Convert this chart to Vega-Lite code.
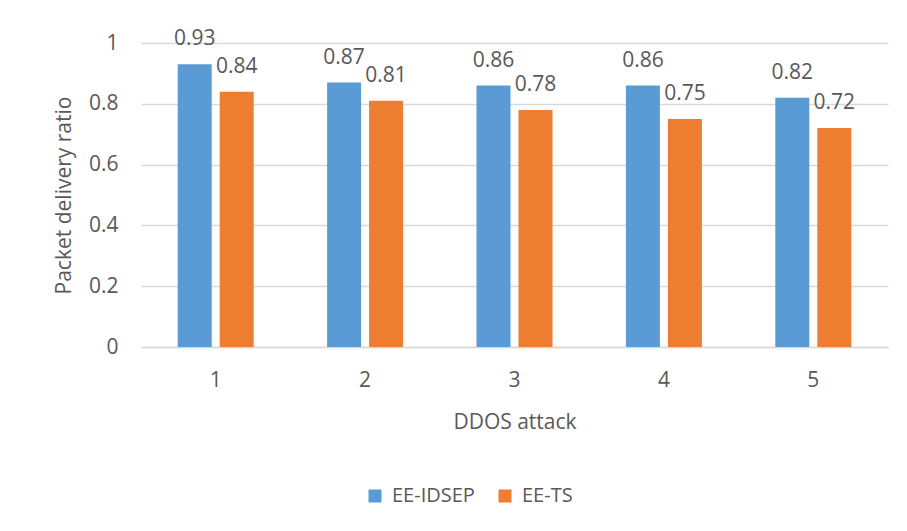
{
  "$schema": "https://vega.github.io/schema/vega-lite/v6.json",
  "autosize": {"type": "none"},
  "width": 747,
  "height": 304,
  "padding": {"left": 141, "top": 43, "right": 19, "bottom": 184},
  "background": "white",
  "config": {
    "view": {"stroke": null},
    "font": "Open Sans",
    "text": {"font": "Open Sans"},
    "axis": {
      "labelFont": "Open Sans",
      "titleFont": "Open Sans",
      "labelColor": "#595959",
      "titleColor": "#595959",
      "labelFontSize": 21,
      "titleFontSize": 21,
      "titleFontWeight": "normal"
    },
    "legend": {"labelFont": "Open Sans", "labelColor": "#595959", "labelFontSize": 20}
  },
  "data": {
    "values": [
      {"attack": "1", "scheme": "EE-IDSEP", "pdr": 0.93},
      {"attack": "1", "scheme": "EE-TS", "pdr": 0.84},
      {"attack": "2", "scheme": "EE-IDSEP", "pdr": 0.87},
      {"attack": "2", "scheme": "EE-TS", "pdr": 0.81},
      {"attack": "3", "scheme": "EE-IDSEP", "pdr": 0.86},
      {"attack": "3", "scheme": "EE-TS", "pdr": 0.78},
      {"attack": "4", "scheme": "EE-IDSEP", "pdr": 0.86},
      {"attack": "4", "scheme": "EE-TS", "pdr": 0.75},
      {"attack": "5", "scheme": "EE-IDSEP", "pdr": 0.82},
      {"attack": "5", "scheme": "EE-TS", "pdr": 0.72}
    ]
  },
  "encoding": {
    "x": {
      "field": "attack",
      "type": "ordinal",
      "scale": {"paddingInner": 0, "paddingOuter": 0},
      "axis": {
        "title": "DDOS attack",
        "labelAngle": 0,
        "ticks": false,
        "tickSize": 0,
        "domainColor": "#D9D9D9",
        "domainWidth": 1.5,
        "labelPadding": 22,
        "titlePadding": 21
      }
    },
    "xOffset": {
      "field": "scheme",
      "type": "nominal",
      "scale": {"paddingInner": 0.19, "paddingOuter": 0.874}
    },
    "y": {
      "field": "pdr",
      "type": "quantitative",
      "scale": {"domain": [0, 1], "nice": false},
      "axis": {
        "title": "Packet delivery ratio",
        "values": [0, 0.2, 0.4, 0.6, 0.8, 1],
        "format": "~g",
        "domain": false,
        "ticks": false,
        "tickSize": 0,
        "labelPadding": 23,
        "gridColor": "#D9D9D9",
        "gridWidth": 1.5,
        "titlePadding": 14
      }
    }
  },
  "layer": [
    {
      "mark": {"type": "bar"},
      "encoding": {
        "color": {
          "field": "scheme",
          "type": "nominal",
          "scale": {"domain": ["EE-IDSEP", "EE-TS"], "range": ["#5B9BD5", "#ED7D31"]},
          "legend": {
            "title": null,
            "orient": "none",
            "direction": "horizontal",
            "legendX": 224,
            "legendY": 443,
            "symbolType": "square",
            "symbolSize": 169,
            "symbolStrokeWidth": 0,
            "labelOffset": 7,
            "columnPadding": 20
          }
        }
      }
    },
    {
      "mark": {"type": "text", "baseline": "alphabetic", "dy": -19, "fontSize": 21, "color": "#595959"},
      "encoding": {
        "text": {"field": "pdr", "type": "quantitative", "format": ".2f"}
      }
    }
  ]
}
